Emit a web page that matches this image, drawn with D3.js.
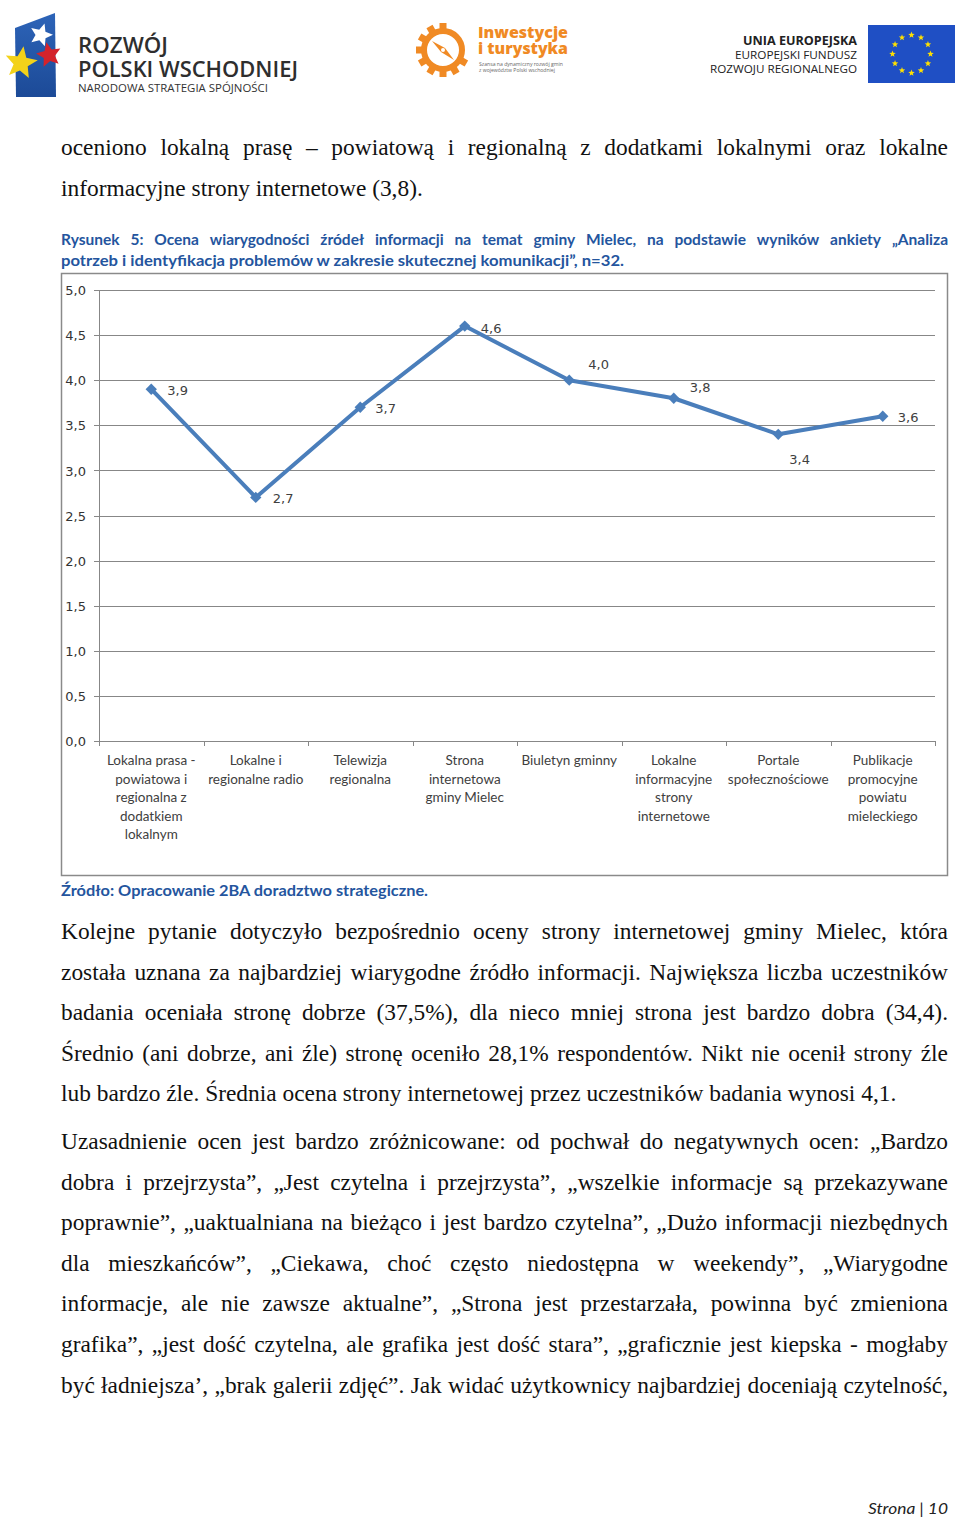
<!DOCTYPE html>
<html><head><meta charset="utf-8">
<script src="https://cdn.jsdelivr.net/npm/d3@7"></script>
<style>html,body{margin:0;padding:0;background:#fff;} svg{display:block;}</style>
</head><body>
<svg id="page" width="960" height="1519"></svg>
<script>
// ---------------- DATA ----------------
const categories = [
  "Lokalna prasa -\npowiatowa i\nregionalna z\ndodatkiem\nlokalnym",
  "Lokalne i\nregionalne radio",
  "Telewizja\nregionalna",
  "Strona\ninternetowa\ngminy Mielec",
  "Biuletyn gminny",
  "Lokalne\ninformacyjne\nstrony\ninternetowe",
  "Portale\nspołecznościowe",
  "Publikacje\npromocyjne\npowiatu\nmieleckiego"
];
const values = [3.9, 2.7, 3.7, 4.6, 4.0, 3.8, 3.4, 3.6];
const yTicks = [0, 0.5, 1.0, 1.5, 2.0, 2.5, 3.0, 3.5, 4.0, 4.5, 5.0];
const yDomain = [0, 5];

const introLines = [
  "oceniono lokalną prasę – powiatową i regionalną z dodatkami lokalnymi oraz lokalne",
  "informacyjne strony internetowe (3,8)."
];
const captionLines = [
  "Rysunek 5: Ocena wiarygodności źródeł informacji na temat gminy Mielec, na podstawie wyników ankiety „Analiza",
  "potrzeb i identyfikacja problemów w zakresie skutecznej komunikacji”, n=32."
];
const sourceText = "Źródło: Opracowanie 2BA doradztwo strategiczne.";
const para2Lines = [
  "Kolejne pytanie dotyczyło bezpośrednio oceny strony internetowej gminy Mielec, która",
  "została uznana za najbardziej wiarygodne źródło informacji. Największa liczba uczestników",
  "badania oceniała stronę dobrze (37,5%), dla nieco mniej strona jest bardzo dobra (34,4).",
  "Średnio (ani dobrze, ani źle) stronę oceniło 28,1% respondentów. Nikt nie ocenił strony źle",
  "lub bardzo źle. Średnia ocena strony internetowej przez uczestników badania wynosi 4,1."
];
const para3Lines = [
  "Uzasadnienie ocen jest bardzo zróżnicowane: od pochwał do negatywnych ocen: „Bardzo",
  "dobra i przejrzysta”, „Jest czytelna i przejrzysta”, „wszelkie informacje są przekazywane",
  "poprawnie”, „uaktualniana na bieżąco i jest bardzo czytelna”, „Dużo informacji niezbędnych",
  "dla mieszkańców”, „Ciekawa, choć często niedostępna w weekendy”, „Wiarygodne",
  "informacje, ale nie zawsze aktualne”, „Strona jest przestarzała, powinna być zmieniona",
  "grafika”, „jest dość czytelna, ale grafika jest dość stara”, „graficznie jest kiepska - mogłaby",
  "być ładniejsza’, „brak galerii zdjęć”. Jak widać użytkownicy najbardziej doceniają czytelność,"
];
const footerText = "Strona | 10";

// ---------------- HELPERS ----------------
const svg = d3.select("#page");
const locale = d3.formatLocale({decimal: ",", thousands: " ", grouping: [3], currency: ["", " zł"]});
const fmt = locale.format(".1f");

function styleText(sel, o) {
  sel.style("font-family", o.family).style("font-size", o.size + "px")
     .style("font-weight", o.weight || "normal").style("font-style", o.style || "normal")
     .attr("fill", o.fill || "#000");
  return sel;
}
function textLine(g, str, x, y, o) {
  if (o.justify) {
    const words = str.split(" ");
    const lg = g.append("g");
    const els = words.map(w => styleText(lg.append("text").attr("y", y), o).text(w));
    const widths = els.map(e => e.node().getComputedTextLength());
    const total = d3.sum(widths);
    const minGap = o.size * (o.minGap || 0.2);
    let s = 1;
    let gap = (o.width - total) / (words.length - 1);
    if (gap < minGap) { s = (o.width - minGap * (words.length - 1)) / total; gap = minGap; }
    let cx = 0;
    els.forEach((e, i) => { e.attr("x", cx); cx += widths[i] + gap / s; });
    lg.attr("transform", `translate(${x},0) scale(${s},1)`);
  } else {
    const t = styleText(g.append("text").attr("x", x).attr("y", y), o).text(str);
    if (o.anchor) t.attr("text-anchor", o.anchor);
    if (o.fit) t.attr("textLength", o.fit).attr("lengthAdjust", "spacingAndGlyphs");
  }
}
function starPath(cx, cy, R, r, rot = -Math.PI / 2) {
  const pts = [];
  for (let i = 0; i < 10; i++) {
    const a = rot + i * Math.PI / 5;
    const rr = i % 2 === 0 ? R : r;
    pts.push([cx + rr * Math.cos(a), cy + rr * Math.sin(a)]);
  }
  return "M" + pts.map(p => p.join(",")).join("L") + "Z";
}

// ---------------- HEADER LOGOS ----------------
const hdr = svg.append("g");
const defs = svg.append("defs");
const lg1 = defs.append("linearGradient").attr("id", "flagGrad").attr("x1", 0).attr("y1", 0).attr("x2", 0).attr("y2", 1);
lg1.append("stop").attr("offset", 0).attr("stop-color", "#2d64b8");
lg1.append("stop").attr("offset", 1).attr("stop-color", "#1c4a97");
hdr.append("path").attr("d", "M15,28 L55,13 L56,97 L16,97 Z").attr("fill", "url(#flagGrad)");
hdr.append("path").attr("d", starPath(41, 35, 12, 5.5, -Math.PI / 2 + 0.3)).attr("fill", "#ffffff");
hdr.append("path").attr("d", starPath(49, 55, 13, 6, -Math.PI / 2 - 0.2)).attr("fill", "#d3232c");
hdr.append("path").attr("d", starPath(21, 63, 17, 7.5, -Math.PI / 2 + 0.15)).attr("fill", "#f3d21a");
textLine(hdr, "ROZWÓJ", 78, 53, {family: "Open Sans", size: 22, weight: 600, fill: "#2e2e2e", fit: 90});
textLine(hdr, "POLSKI WSCHODNIEJ", 78, 77, {family: "Open Sans", size: 22, weight: 600, fill: "#2e2e2e", fit: 220});
textLine(hdr, "NARODOWA STRATEGIA SPÓJNOŚCI", 78, 92, {family: "Open Sans", size: 10, fill: "#333", fit: 190});

// middle logo
const gear = hdr.append("g").attr("transform", "translate(443,50)");
for (let i = 0; i < 12; i++) {
  const a = i * 30;
  if (a > 20 && a < 100) continue;
  gear.append("rect").attr("x", -3.5).attr("y", -27).attr("width", 7).attr("height", 7)
      .attr("fill", "#f08a24").attr("transform", `rotate(${a})`);
}
gear.append("circle").attr("r", 19).attr("fill", "none").attr("stroke", "#f08a24").attr("stroke-width", 6);
gear.append("path").attr("d", "M-11,-9 L2,-2 L11,10 L-2,2 Z").attr("fill", "#f08a24");
gear.append("circle").attr("r", 2).attr("fill", "#fff");
textLine(hdr, "Inwestycje", 478, 38, {family: "Open Sans", size: 16, weight: 800, fill: "#f08a24", fit: 90});
textLine(hdr, "i turystyka", 478, 54, {family: "Open Sans", size: 16, weight: 800, fill: "#f08a24", fit: 90});
textLine(hdr, "Szansa na dynamiczny rozwój gmin", 479, 66, {family: "Open Sans", size: 5, fill: "#666", fit: 84});
textLine(hdr, "z województw Polski wschodniej", 479, 72, {family: "Open Sans", size: 5, fill: "#666", fit: 76});

// right logo
textLine(hdr, "UNIA EUROPEJSKA", 857, 45, {family: "Open Sans", size: 11.5, weight: 700, fill: "#222", anchor: "end", fit: 114});
textLine(hdr, "EUROPEJSKI FUNDUSZ", 857, 59, {family: "Open Sans", size: 11.5, fill: "#222", anchor: "end", fit: 122});
textLine(hdr, "ROZWOJU REGIONALNEGO", 857, 73, {family: "Open Sans", size: 11.5, fill: "#222", anchor: "end", fit: 147});
hdr.append("rect").attr("x", 868).attr("y", 25).attr("width", 87).attr("height", 58).attr("fill", "#1f4fc4");
for (let i = 0; i < 12; i++) {
  const a = i * Math.PI / 6;
  hdr.append("path").attr("d", starPath(911.5 + 19 * Math.sin(a), 54 - 19 * Math.cos(a), 3.4, 1.4)).attr("fill", "#ffe000");
}

// ---------------- BODY TEXT ----------------
const body = svg.append("g");
const serif = {family: "Liberation Serif, Times New Roman, serif", size: 23.4, fill: "#111", width: 887};
const bodyX = 61;
introLines.forEach((l, i) => textLine(body, l, bodyX, 155 + i * 40.8, {...serif, justify: i < introLines.length - 1}));
para2Lines.forEach((l, i) => textLine(body, l, bodyX, 939 + i * 40.6, {...serif, justify: i < para2Lines.length - 1}));
para3Lines.forEach((l, i) => textLine(body, l, bodyX, 1149 + i * 40.6, {...serif, justify: true}));

const capStyle = {family: "Lato, Open Sans, sans-serif", size: 15.5, weight: 700, fill: "#24559e", width: 887};
textLine(body, captionLines[0], bodyX, 245, {...capStyle, justify: true, minGap: 0.24});
textLine(body, captionLines[1], bodyX, 266, {...capStyle, fit: 563});
textLine(body, sourceText, bodyX, 896, {...capStyle, size: 15.5, fit: 367});
textLine(body, footerText, 948, 1514, {family: "Lato, Open Sans, sans-serif", size: 16, style: "italic", fill: "#222", anchor: "end", fit: 80});

// ---------------- CHART ----------------
const chart = svg.append("g");
chart.append("rect").attr("x", 61.5).attr("y", 273.5).attr("width", 886).attr("height", 602)
     .attr("fill", "#fff").attr("stroke", "#8a8a8a").attr("stroke-width", 1.5);

const plot = {left: 99, right: 935, top: 290, bottom: 741};
const x = d3.scaleBand().domain(d3.range(categories.length)).range([plot.left, plot.right]);
const xEdges = d3.scaleLinear().domain([0, categories.length]).range([plot.left, plot.right]);
const y = d3.scaleLinear().domain(yDomain).range([plot.bottom, plot.top]);

// gridlines
const grid = chart.append("g").attr("transform", `translate(${plot.left},0)`)
  .call(d3.axisLeft(y).tickValues(yTicks).tickSize(-(plot.right - plot.left)).tickFormat(""));
grid.select(".domain").remove();
grid.selectAll("line").attr("stroke", "#878787").attr("stroke-width", 1).attr("shape-rendering", "crispEdges");

// y axis with labels
const yAx = chart.append("g").attr("transform", `translate(${plot.left},0)`)
  .call(d3.axisLeft(y).tickValues(yTicks).tickSize(5).tickSizeOuter(0).tickPadding(8).tickFormat(fmt));
yAx.select(".domain").attr("stroke", "#878787").attr("shape-rendering", "crispEdges");
yAx.selectAll("line").attr("stroke", "#878787").attr("shape-rendering", "crispEdges");
yAx.selectAll("text").style("font-family", "DejaVu Sans, Verdana, sans-serif").style("font-size", "13px")
   .attr("fill", "#333").attr("text-anchor", "end").attr("dy", "0.36em");

// x axis tick marks at band edges
const xAx = chart.append("g").attr("transform", `translate(0,${plot.bottom})`)
  .call(d3.axisBottom(xEdges).tickValues(d3.range(categories.length + 1)).tickSize(5).tickSizeOuter(0).tickFormat(""));
xAx.select(".domain").attr("stroke", "#878787").attr("shape-rendering", "crispEdges");
xAx.selectAll("line").attr("stroke", "#878787").attr("shape-rendering", "crispEdges");

// category labels
const cat = chart.append("g").selectAll("text").data(categories).join("text")
  .attr("x", (d, i) => x(i) + x.bandwidth() / 2).attr("y", 765)
  .attr("text-anchor", "middle").style("font-family", "Lato, Open Sans, sans-serif")
  .style("font-size", "13.5px").attr("fill", "#404040");
cat.each(function (d) {
  const t = d3.select(this);
  d.split("\n").forEach((ln, k) => t.append("tspan").attr("x", t.attr("x")).attr("dy", k === 0 ? 0 : 18.6).text(ln));
});

// line
const cx = (d, i) => x(i) + x.bandwidth() / 2;
chart.append("path").datum(values)
  .attr("d", d3.line().x(cx).y(d => y(d)))
  .attr("fill", "none").attr("stroke", "#4a7ebb").attr("stroke-width", 4)
  .attr("stroke-linejoin", "round").attr("stroke-linecap", "round");
chart.append("g").selectAll("path").data(values).join("path")
  .attr("d", d3.symbol(d3.symbolSquare, 64)())
  .attr("transform", (d, i) => `translate(${cx(d, i)},${y(d)}) rotate(45)`)
  .attr("fill", "#4a7ebb");

// data labels
const labelShift = [[16, 6], [17, 6], [15, 6], [16, 7], [19, -11], [16, -6], [11, 30], [15, 6]];
chart.append("g").selectAll("text").data(values).join("text")
  .attr("x", (d, i) => cx(d, i) + labelShift[i][0])
  .attr("y", (d, i) => y(d) + labelShift[i][1])
  .style("font-family", "DejaVu Sans, Verdana, sans-serif").style("font-size", "13px")
  .attr("fill", "#404040").text(d => fmt(d));
</script>
</body></html>
